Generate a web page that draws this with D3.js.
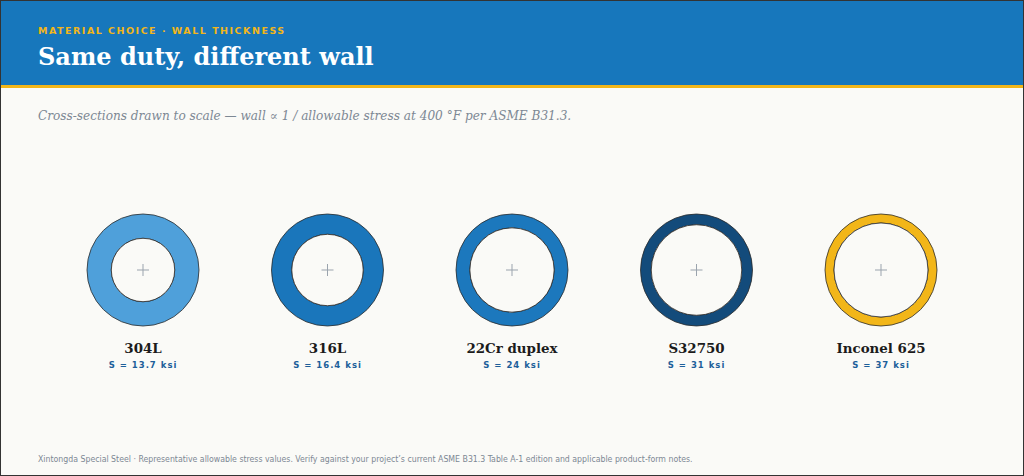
<!DOCTYPE html>
<html>
<head>
<meta charset="utf-8">
<script src="https://cdn.jsdelivr.net/npm/d3@7/dist/d3.min.js"></script>
<style>
  html, body { margin: 0; padding: 0; background: #fafaf7; }
  svg { display: block; }
</style>
</head>
<body>
<script>
// materials and their allowable stress at 400 °F (ksi)
const materials = ["304L", "316L", "22Cr duplex", "S32750", "Inconel 625"];
const stressKsi = [13.7, 16.4, 24, 31, 37];
const stressLabels = ["13.7", "16.4", "24", "31", "37"];
const ringColors = ["#4fa0da", "#1a76bb", "#1c78bd", "#134b7b", "#f2b619"];

const width = 1024, height = 476;
const svg = d3.select("body").append("svg")
    .attr("width", width).attr("height", height);

// fondo + borde
svg.append("rect").attr("x", 0.5).attr("y", 0.5)
    .attr("width", width - 1).attr("height", height - 1)
    .attr("fill", "#fafaf7").attr("stroke", "#333").attr("stroke-width", 1);

// cabecera
svg.append("rect").attr("x", 1).attr("y", 1).attr("width", width - 2).attr("height", 84)
    .attr("fill", "#1777bc");
svg.append("rect").attr("x", 1).attr("y", 85).attr("width", width - 2).attr("height", 3)
    .attr("fill", "#f2b619");

svg.append("text").attr("x", 38).attr("y", 34)
    .attr("font-family", "DejaVu Sans, sans-serif").attr("font-weight", "bold")
    .attr("font-size", 9.5).attr("letter-spacing", 1.5).attr("fill", "#f2b619")
    .text("MATERIAL CHOICE · WALL THICKNESS");

svg.append("text").attr("x", 38).attr("y", 65)
    .attr("font-family", "DejaVu Serif, serif").attr("font-weight", "bold")
    .attr("font-size", 24).attr("fill", "#fff")
    .text("Same duty, different wall");

svg.append("text").attr("x", 38).attr("y", 120)
    .attr("font-family", "DejaVu Serif, serif").attr("font-style", "italic")
    .attr("font-size", 12.1).attr("fill", "#7d8894")
    .text("Cross-sections drawn to scale — wall ∝ 1 / allowable stress at 400 °F per ASME B31.3.");

// escalas
const x = d3.scalePoint().domain(materials).range([143, 881]);
const cy = 270;
const outerR = 56;
const wall = d3.scaleLinear().domain([0, 1 / 13.7]).range([0, 24.3]);

const arc = d3.arc();

const g = svg.append("g").selectAll("g.pipe")
    .data(materials.map((m, i) => ({ name: m, s: stressKsi[i], label: stressLabels[i], color: ringColors[i] })))
    .join("g").attr("class", "pipe")
    .attr("transform", d => `translate(${x(d.name)},${cy})`);

g.append("path")
    .attr("d", d => arc({ innerRadius: outerR - wall(1 / d.s), outerRadius: outerR, startAngle: 0, endAngle: 2 * Math.PI }))
    .attr("fill", d => d.color).attr("fill-rule", "evenodd")
    .attr("stroke", "#2b2b2b").attr("stroke-width", 0.8);

g.append("circle")
    .attr("r", d => outerR - wall(1 / d.s))
    .attr("fill", "#fafaf7").attr("stroke", "#2b2b2b").attr("stroke-width", 0.8);

// cruz del centro
g.append("path").attr("d", "M-6,0H6M0,-6V6")
    .attr("stroke", "#9aa3ad").attr("stroke-width", 1);

g.append("text").attr("y", 83).attr("text-anchor", "middle")
    .attr("font-family", "DejaVu Serif, serif").attr("font-weight", "bold")
    .attr("font-size", 13.4).attr("fill", "#1b1b1b")
    .text(d => d.name);

g.append("text").attr("y", 98).attr("text-anchor", "middle")
    .attr("font-family", "DejaVu Sans, sans-serif").attr("font-weight", "bold")
    .attr("font-size", 8.5).attr("letter-spacing", 1).attr("fill", "#1d5f9a")
    .text(d => `S = ${d.label} ksi`);

// pie
svg.append("text").attr("x", 38).attr("y", 462)
    .attr("font-family", "DejaVu Sans Condensed, DejaVu Sans, sans-serif")
    .attr("font-size", 8.7).attr("fill", "#7d8894")
    .text("Xintongda Special Steel · Representative allowable stress values. Verify against your project’s current ASME B31.3 Table A-1 edition and applicable product-form notes.");
</script>
</body>
</html>
